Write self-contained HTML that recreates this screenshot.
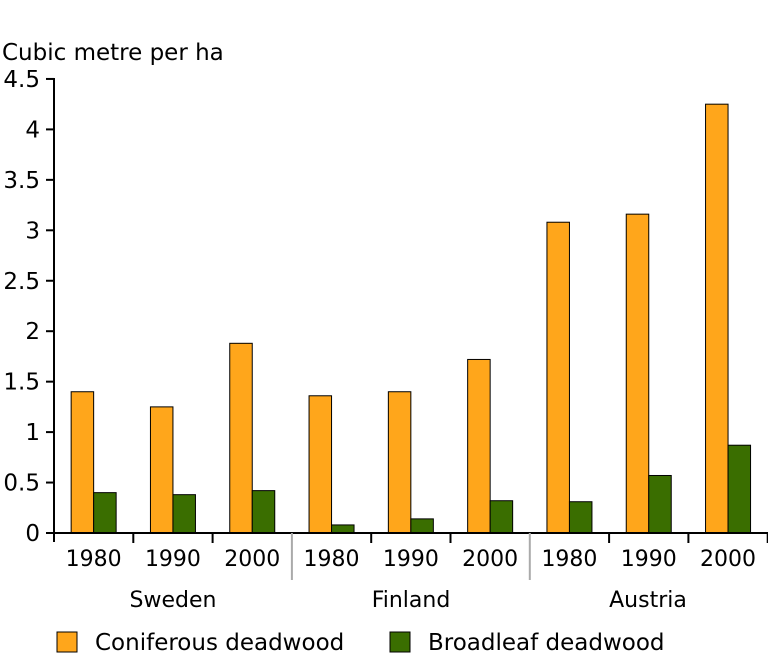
<!DOCTYPE html>
<html><head><meta charset="utf-8"><style>body{margin:0;background:#fff}</style></head><body>
<svg width="768" height="656" xmlns="http://www.w3.org/2000/svg" font-family="DejaVu Sans, Liberation Sans, sans-serif" font-size="22" fill="#000">
<text x="2" y="60" font-size="23">Cubic metre per ha</text>
<g id="bars" stroke="#000" stroke-width="1"></g>
<line x1="54" y1="78" x2="54" y2="542" stroke="#000" stroke-width="2"/>
<line x1="54" y1="533" x2="768" y2="533" stroke="#000" stroke-width="2"/>
<g id="yt" text-anchor="end"></g>
<g id="xt" text-anchor="middle"></g>
<text x="173" y="607" text-anchor="middle">Sweden</text>
<text x="411" y="607" text-anchor="middle">Finland</text>
<text x="648" y="607" text-anchor="middle">Austria</text>
<rect x="57" y="632" width="20" height="20" fill="#ffa61b" stroke="#000"/>
<text x="95" y="650" font-size="23">Coniferous deadwood</text>
<rect x="390" y="632" width="20" height="20" fill="#3a6e00" stroke="#000"/>
<text x="428" y="650" font-size="23">Broadleaf deadwood</text>
</svg>
<script>
var ns="http://www.w3.org/2000/svg",s=document.querySelector('svg');
function el(t,a,p,txt){var e=document.createElementNS(ns,t);for(var k in a)e.setAttribute(k,a[k]);if(txt!=null)e.textContent=txt;(p||s).appendChild(e);return e;}
var Y0=533,U=100.9,W=79.3;
var o=[1.4,1.25,1.88,1.36,1.4,1.72,3.08,3.16,4.25],g=[.4,.38,.42,.08,.14,.32,.31,.57,.87];
var bars=document.getElementById('bars');
for(var i=0;i<9;i++){var c=54+W*i+W/2;
el('rect',{x:c-22.5,y:Y0-o[i]*U,width:22.5,height:o[i]*U,fill:'#ffa61b'},bars);
el('rect',{x:c,y:Y0-g[i]*U,width:22.5,height:g[i]*U,fill:'#3a6e00'},bars);
el('text',{x:c,y:566},document.getElementById('xt'),['1980','1990','2000'][i%3]);}
for(var i=1;i<=9;i++){var x=54+W*i;
if(i==3||i==6)el('line',{x1:x,y1:533,x2:x,y2:580,stroke:'#aaa','stroke-width':2});
else el('line',{x1:x,y1:533,x2:x,y2:543,stroke:'#000','stroke-width':2});}
for(var v=0;v<=9;v++){var y=Y0-v*0.5*U;
el('line',{x1:46,y1:y,x2:54,y2:y,stroke:'#000','stroke-width':2});
el('text',{x:40,y:y+8,'font-size':23},document.getElementById('yt'),(v/2).toString());}
</script>
</body></html>
